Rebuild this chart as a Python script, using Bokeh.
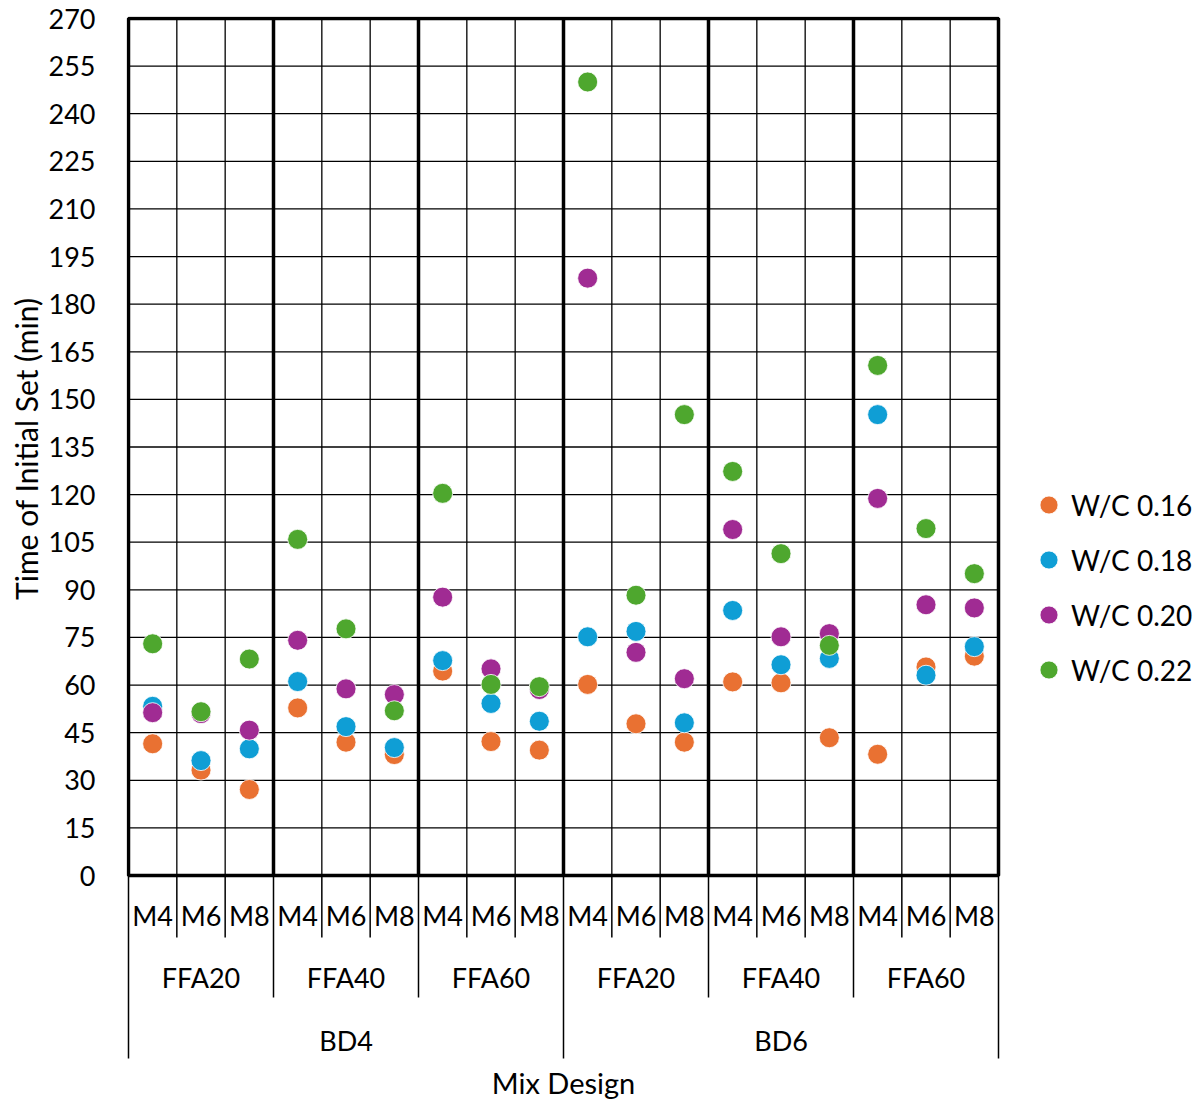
from bokeh.plotting import figure
from bokeh.models import Range1d, FixedTicker, Legend, LegendItem, BoxAnnotation
from bokeh.core.properties import value
from bokeh.embed import file_html
from bokeh.resources import INLINE

# ---------------- data ----------------
binders = ["BD4", "BD6"]
fly_ash = ["FFA20", "FFA40", "FFA60"]
mixes = ["M4", "M6", "M8"]
categories = [(b, f, m) for b in binders for f in fly_ash for m in mixes]

series_names = ["W/C 0.16", "W/C 0.18", "W/C 0.20", "W/C 0.22"]
wc016 = [41.5, 33.2, 27.1, 52.8, 42.0, 38.1, 64.4, 42.2, 39.5,
         60.2, 47.8, 42.0, 61.0, 60.7, 43.4, 38.2, 65.7, 69.1]
wc018 = [53.3, 36.2, 39.9, 61.1, 46.9, 40.3, 67.7, 54.2, 48.6,
         75.2, 76.9, 48.1, 83.5, 66.4, 68.4, 145.2, 63.1, 72.1]
wc020 = [51.3, 51.0, 45.8, 74.1, 58.8, 57.0, 87.7, 65.1, 58.6,
         188.2, 70.3, 62.0, 109.0, 75.2, 76.2, 118.8, 85.3, 84.3]
wc022 = [73.0, 51.6, 68.2, 105.9, 77.7, 51.9, 120.4, 60.2, 59.5,
         250.0, 88.3, 145.2, 127.3, 101.4, 72.5, 160.7, 109.3, 95.1]
series = [wc016, wc018, wc020, wc022]
colors = ["#E97132", "#0F9ED5", "#A02B93", "#4EA72E"]

y_ticks = list(range(0, 271, 15))
y_max = 270
y_title = "Time of Initial Set (min)"
x_title = "Mix Design"

FONT = "Lato"

n = len(categories)
xc = [i + 0.5 for i in range(n)]

# ---------------- geometry (pixels) ----------------
W, H = 1198, 1100
plot_left, plot_top = 128, 18
plot_w, plot_h = 870, 857
pad = 2
u = plot_w / n
s = plot_h / y_max
frame_left = plot_left - pad
frame_top = plot_top - pad
frame_w = W - frame_left
frame_h = H - frame_top
def below(px):          # pixel distance below the y=0 line -> data y
    return -px / s

p = figure(width=W, height=H,
           x_range=Range1d(-pad / u, (frame_w - pad) / u),
           y_range=Range1d(y_max - (frame_h - pad) / s, y_max + pad / s),
           x_axis_location=None, output_backend="svg", toolbar_location=None,
           min_border_left=frame_left, min_border_right=0,
           min_border_top=frame_top, min_border_bottom=0,
           title=y_title, title_location="left")
for g in p.grid:
    g.visible = False
p.outline_line_color = None

p.title.align = "right"
p.title.offset = 297 - frame_top
p.title.text_font = FONT
p.title.text_font_size = "30px"
p.title.text_font_style = "normal"
p.title.text_color = "black"
p.title.standoff = 4

# grid of the plotting area
p.segment(x0=[0] * len(y_ticks), y0=y_ticks, x1=[n] * len(y_ticks), y1=y_ticks,
          line_color="black", line_width=1.3, level="underlay")
thin = [k for k in range(1, n) if k % 3 != 0]
thick = [k for k in range(1, n) if k % 3 == 0]
p.segment(x0=thin, y0=[0] * len(thin), x1=thin, y1=[y_max] * len(thin),
          line_color="black", line_width=1.3, level="underlay")
p.segment(x0=thick, y0=[0] * len(thick), x1=thick, y1=[y_max] * len(thick),
          line_color="black", line_width=3.5, level="underlay")
p.add_layout(BoxAnnotation(left=0, right=n, bottom=0, top=y_max, fill_alpha=0,
                           line_color="black", line_alpha=1, line_width=3.5,
                           level="underlay"))

ya = p.yaxis[0]
ya.ticker = FixedTicker(ticks=y_ticks)
ya.axis_line_color = None
ya.major_tick_line_color = None
ya.minor_tick_line_color = None
ya.major_tick_out = 0
ya.major_tick_in = 0
ya.minor_tick_out = 0
ya.minor_tick_in = 0
ya.major_label_standoff = 31
ya.major_label_text_font = FONT
ya.major_label_text_font_size = "27px"
ya.major_label_text_color = "black"

# ---------------- points ----------------
items = []
for name, vals, col in zip(series_names, series, colors):
    r = p.scatter(xc, vals, size=20, fill_color=col, line_color="white", line_width=0.8)
    items.append(LegendItem(label=name, renderers=[r]))

legend = Legend(items=items, location=(1026 - frame_left, H - 692), border_line_color=None,
                background_fill_alpha=0, label_text_font=FONT, label_text_font_size="28px",
                label_text_color="black",
                glyph_width=45, glyph_height=45, label_standoff=0, spacing=10,
                padding=0, margin=0)
p.add_layout(legend)

# ---------------- category table below the plot ----------------
bx, blen = [], []
for k in range(n + 1):
    bx.append(k)
    if k % 9 == 0:
        blen.append(below(183))
    elif k % 3 == 0:
        blen.append(below(122))
    else:
        blen.append(below(62))
p.segment(x0=bx, y0=[0] * len(bx), x1=bx, y1=blen, line_color="black", line_width=1.5)

tx = dict(text_font=value(FONT), text_font_size="27px", text_align="center",
          text_baseline="middle", text_color="black")
p.text(x=xc, y=[below(40)] * n, text=[c[2] for c in categories], **tx)
ffa_x = [3 * j + 1.5 for j in range(len(binders) * len(fly_ash))]
ffa_lab = [f for b in binders for f in fly_ash]
p.text(x=ffa_x, y=[below(102)] * len(ffa_x), text=ffa_lab, **tx)
bd_x = [9 * j + 4.5 for j in range(len(binders))]
p.text(x=bd_x, y=[below(165)] * len(bd_x), text=binders, **tx)
p.text(x=[n / 2], y=[below(207)], text=[x_title], text_font=value(FONT),
       text_font_size="29px", text_align="center", text_baseline="middle",
       text_color="black")

open("out.html", "w").write(file_html(p, INLINE))
